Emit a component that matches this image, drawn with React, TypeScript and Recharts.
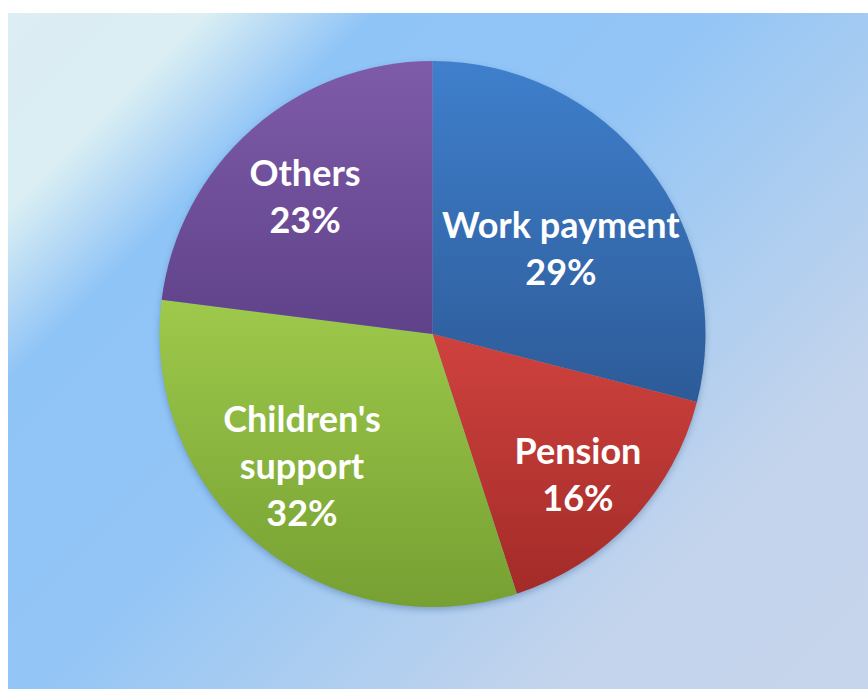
import React from 'react';
import { PieChart, Pie, Cell } from 'recharts';

// ---- data ----
const categories = ['Work payment', 'Pension', "Children's support", 'Others'];
const shares = [29, 16, 32, 23];
const labelLines = [['Work payment'], ['Pension'], ["Children's", 'support'], ['Others']];

const data = categories.map((name, i) => ({ name, value: shares[i] }));

// ---- styles / layout ----
const GRADS = [
  { id: 'gWork', top: '#3f7fcc', bottom: '#2d5b98' },
  { id: 'gPension', top: '#cf423e', bottom: '#a32b28' },
  { id: 'gChild', top: '#9ec94b', bottom: '#76a032' },
  { id: 'gOthers', top: '#7e5ba9', bottom: '#5f4289' },
];
const LABEL_RADIUS = [0.564, 0.742, 0.682, 0.686];
const LABEL_ANGLE_SHIFT = [-4.3, -0.9, -4.9, 1.5];
const RAD = Math.PI / 180;
const FONT_SIZE = 36;
const LINE_H = 47;

const renderLabel = (props: any) => {
  const { cx, cy, midAngle, outerRadius, index, value } = props;
  const a = (midAngle + LABEL_ANGLE_SHIFT[index]) * RAD;
  const r = outerRadius * LABEL_RADIUS[index];
  const x = cx + r * Math.cos(-a);
  const y = cy + r * Math.sin(-a);
  const lines = [...labelLines[index], `${value}%`];
  const y0 = y - ((lines.length - 1) * LINE_H) / 2 + FONT_SIZE * 0.35;
  return (
    <text
      key={`lbl-${index}`}
      x={x}
      y={y0}
      textAnchor="middle"
      fill="#ffffff"
      fontFamily="Lato, 'Open Sans', sans-serif"
      fontWeight={700}
      fontSize={FONT_SIZE}
    >
      {lines.map((l, i) => (
        <tspan key={i} x={x} y={y0 + i * LINE_H}>
          {l}
        </tspan>
      ))}
    </text>
  );
};

export default function App() {
  return (
    <div style={{ position: 'absolute', left: 0, top: 0, width: 868, height: 689, background: '#ffffff' }}>
      <div
        style={{
          position: 'absolute',
          left: 8,
          top: 13,
          width: 860,
          height: 676,
          background:
            'linear-gradient(135deg, #dcedf3 0%, #daeef3 13%, #8fc4f7 24%, #93c5f6 45%, #a8ccf1 60%, #c4d4ec 80%, #c6d5ec 100%)',
        }}
      />
      <div style={{ position: 'absolute', left: 0, top: 0 }}>
        <PieChart width={868} height={689} margin={{ top: 0, right: 0, bottom: 0, left: 0 }}>
          <defs>
            {GRADS.map((g) => (
              <linearGradient key={g.id} id={g.id} x1="0" y1="0" x2="0" y2="1">
                <stop offset="0%" stopColor={g.top} />
                <stop offset="100%" stopColor={g.bottom} />
              </linearGradient>
            ))}
            <filter id="pieShadow" x="-20%" y="-20%" width="140%" height="140%">
              <feGaussianBlur stdDeviation="3" />
            </filter>
          </defs>
          <Pie
            data={data}
            dataKey="value"
            nameKey="name"
            cx={432.5}
            cy={337}
            outerRadius={273}
            startAngle={90}
            endAngle={-270}
            stroke="none"
            isAnimationActive={false}
            legendType="none"
          >
            {data.map((d, i) => (
              <Cell key={`s-${i}`} fill="#2b4f80" fillOpacity={0.35} filter="url(#pieShadow)" />
            ))}
          </Pie>
          <Pie
            data={data}
            dataKey="value"
            nameKey="name"
            cx={432.5}
            cy={334}
            outerRadius={273}
            startAngle={90}
            endAngle={-270}
            stroke="none"
            isAnimationActive={false}
            label={renderLabel}
            labelLine={false}
          >
            {data.map((d, i) => (
              <Cell key={`c-${i}`} fill={`url(#${GRADS[i].id})`} />
            ))}
          </Pie>
        </PieChart>
      </div>
    </div>
  );
}
